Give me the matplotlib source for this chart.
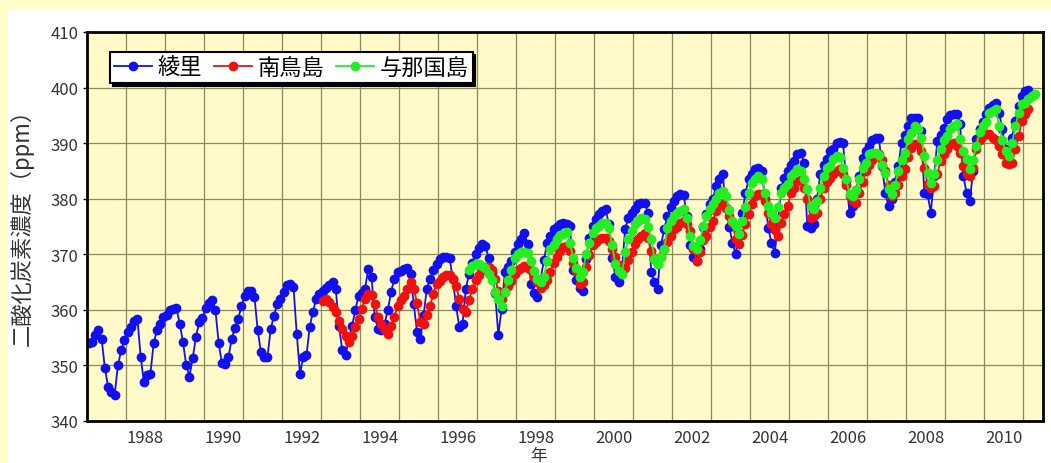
import matplotlib
matplotlib.use('Agg')
import matplotlib.pyplot as plt
import numpy as np
from matplotlib.patches import Rectangle

plt.rcParams['font.family'] = ['Noto Sans CJK JP', 'DejaVu Sans']

# ---- data (monthly means, ppm) ----
series_names = ['綾里', '南鳥島', '与那国島']
series_colors = ['#1010F0', '#F01010', '#22EE22']

ryori_start = (1987, 1)
ryori = [
    354.0, 354.3, 355.4, 356.4, 354.8, 349.5, 346.1, 345.3, 344.7, 350.0, 352.7, 354.5,
    356.0, 356.9, 358.0, 358.4, 351.6, 347.0, 348.3, 348.5, 354.0, 356.3, 357.5, 358.7,
    359.0, 359.9, 360.2, 360.3, 357.5, 354.3, 350.1, 348.0, 351.3, 355.1, 357.8, 358.5,
    360.3, 361.2, 361.8, 359.9, 354.0, 350.4, 350.3, 351.5, 354.8, 356.8, 358.4, 360.7,
    362.5, 363.4, 363.4, 362.3, 356.3, 352.4, 351.5, 351.5, 356.6, 358.9, 361.1, 362.0,
    363.2, 364.4, 364.7, 364.1, 355.7, 348.5, 351.5, 351.8, 357.0, 359.7, 362.0, 362.8,
    363.4, 364.0, 364.4, 365.1, 363.8, 357.1, 352.7, 351.8, 354.8, 357.1, 359.9, 362.5,
    363.0, 363.8, 367.4, 365.9, 358.7, 356.6, 356.3, 357.5, 359.9, 363.2, 365.6, 366.8,
    367.0, 367.4, 367.6, 366.5, 361.0, 356.0, 354.8, 359.0, 363.8, 365.6, 367.1, 368.3,
    369.2, 369.5, 369.6, 369.4, 365.5, 360.7, 356.9, 357.5, 363.8, 366.5, 368.5, 370.0,
    371.2, 371.8, 371.5, 369.4, 366.8, 363.0, 355.5, 360.2, 366.8, 367.8, 368.8, 370.4,
    371.8, 372.8, 373.9, 371.8, 364.7, 363.0, 362.3, 365.6, 369.0, 372.1, 373.3, 374.5,
    375.0, 375.4, 375.7, 375.5, 375.1, 367.1, 365.3, 364.0, 363.4, 369.2, 373.0, 375.1,
    376.3, 377.2, 377.8, 378.1, 375.4, 369.4, 366.0, 365.0, 367.4, 374.5, 376.6, 377.5,
    378.1, 379.0, 379.3, 379.3, 377.5, 366.8, 365.0, 363.8, 371.6, 374.5, 376.9, 378.5,
    379.6, 380.5, 380.8, 380.6, 376.9, 371.6, 369.5, 368.8, 371.0, 375.0, 377.2, 379.0,
    380.0, 382.3, 383.5, 384.4, 378.4, 375.0, 372.1, 370.0, 373.9, 377.5, 381.0, 383.5,
    384.5, 385.3, 385.6, 385.0, 380.0, 374.8, 372.0, 370.3, 375.7, 382.0, 383.8, 385.0,
    386.0, 386.8, 388.0, 388.3, 386.5, 375.1, 374.8, 375.5, 380.0, 384.4, 386.0, 387.1,
    388.5, 388.9, 390.1, 390.2, 390.0, 383.2, 377.5, 378.7, 381.5, 384.1, 387.4, 388.5,
    389.5, 390.5, 391.0, 391.0, 385.9, 381.0, 378.7, 379.9, 383.0, 385.9, 390.1, 391.5,
    393.1, 394.5, 394.6, 394.5, 392.2, 381.1, 380.8, 377.5, 384.0, 390.4, 391.5, 392.8,
    394.3, 395.0, 395.2, 395.2, 393.4, 384.1, 381.0, 379.6, 385.0, 390.7, 392.5, 393.8,
    395.2, 396.4, 396.8, 397.3, 395.5, 392.5, 389.0, 388.0, 391.0, 394.0, 396.7, 398.5,
    399.3, 399.5,
]

minamitori_start = (1993, 1)
minamitori = [
    361.6, 362.0, 361.4, 360.5, 359.6, 358.0, 356.6, 355.3, 354.2, 355.3, 356.9, 358.4,
    360.2, 362.0, 362.9, 362.6, 361.1, 358.7, 357.5, 356.3, 355.7, 357.1, 358.7, 360.7,
    361.8, 362.5, 363.8, 365.0, 363.8, 361.2, 357.8, 357.5, 359.0, 360.7, 362.9, 364.7,
    365.2, 365.9, 366.3, 366.3, 365.6, 364.3, 362.0, 360.2, 359.6, 361.7, 363.8, 365.3,
    366.3, 367.1, 367.7, 367.7, 367.1, 365.6, 363.4, 362.0, 363.2, 364.3, 365.2, 366.5,
    367.2, 367.5, 367.9, 367.6, 367.1, 366.0, 365.0, 364.0, 364.5, 365.3, 366.8, 368.5,
    369.5, 370.6, 371.3, 371.5, 370.6, 368.5, 367.0, 364.7, 365.0, 367.7, 369.8, 371.6,
    372.3, 372.8, 373.0, 373.0, 372.4, 370.9, 369.5, 368.0, 366.8, 367.5, 369.0, 370.4,
    371.8, 372.8, 373.3, 373.9, 373.0, 370.6, 369.2, 368.3, 369.5, 371.0, 372.2, 373.3,
    374.5, 375.0, 375.7, 376.0, 375.5, 374.2, 371.0, 368.8, 370.5, 372.5, 373.3, 375.0,
    376.0, 377.8, 378.8, 379.3, 378.4, 376.8, 375.7, 372.8, 371.8, 373.5, 375.5, 377.2,
    379.0, 380.5, 380.8, 380.8, 379.5, 377.5, 375.4, 374.3, 373.3, 375.7, 377.2, 378.7,
    381.1, 382.0, 383.2, 383.3, 382.0, 379.9, 376.6, 376.9, 377.5, 379.9, 382.0, 383.0,
    383.8, 384.5, 385.0, 385.3, 384.5, 382.5, 380.5, 379.5, 379.3, 381.0, 383.0, 385.0,
    386.0, 387.0, 387.8, 388.0, 387.0, 385.0, 382.5, 380.5, 381.0, 382.5, 384.0, 385.3,
    387.5, 389.2, 389.8, 389.8, 388.6, 385.5, 382.6, 382.0, 382.3, 384.5, 386.8, 388.0,
    389.0, 389.8, 390.0, 389.5, 388.3, 385.9, 384.4, 384.0, 385.5, 388.9, 390.5, 391.3,
    391.6, 391.6, 391.0, 390.5, 389.5, 388.0, 386.5, 386.2, 386.5, 388.9, 391.3, 394.0,
    395.2, 396.1,
]

yonaguni_start = (1996, 10)
yonaguni = [
    367.1, 367.9, 368.3,
    368.3, 367.9, 367.5, 366.5, 365.3, 363.2, 362.0, 360.7, 363.2, 365.3, 367.1, 369.4,
    370.0, 370.4, 370.4, 370.2, 368.8, 367.0, 365.5, 365.0, 366.0, 368.8, 371.0, 371.6,
    372.8, 373.5, 373.7, 374.0, 372.1, 369.4, 367.5, 366.0, 366.8, 370.0, 372.1, 373.9,
    374.8, 375.1, 375.6, 375.7, 374.8, 371.6, 368.3, 367.0, 366.5, 370.5, 372.8, 374.2,
    375.5, 376.0, 376.6, 376.3, 375.0, 372.8, 369.2, 368.3, 369.5, 371.0, 374.8, 376.0,
    376.9, 377.5, 377.8, 378.1, 376.5, 373.3, 371.5, 371.0, 372.5, 375.1, 376.8, 378.1,
    379.0, 379.9, 381.0, 381.4, 380.5, 378.0, 376.0, 375.1, 373.6, 376.0, 378.5, 381.1,
    382.9, 383.6, 384.1, 383.5, 381.0, 378.7, 377.5, 376.6, 378.5, 381.1, 382.0, 382.6,
    384.0, 384.6, 385.3, 385.0, 383.5, 381.7, 378.7, 378.1, 379.5, 382.0, 384.1, 385.5,
    385.9, 387.1, 387.7, 387.5, 385.5, 383.5, 380.8, 380.5, 381.5, 383.5, 385.5, 386.5,
    388.0, 388.2, 388.3, 387.8, 386.0, 384.7, 381.7, 380.8, 382.5, 385.0, 387.0, 388.3,
    390.7, 391.9, 393.1, 392.5, 391.0, 387.7, 384.7, 382.9, 384.5, 387.0, 388.9, 390.5,
    391.3, 392.5, 393.0, 393.4, 390.7, 388.5, 387.1, 385.3, 387.0, 389.5, 392.0, 393.0,
    393.8, 395.5, 395.8, 396.1, 393.1, 390.5, 388.5, 387.7, 390.0, 393.0, 395.5, 397.0,
    397.3, 398.0, 398.5, 398.8,
]

x_tick_years = list(range(1988, 2011, 2))
y_ticks = list(range(340, 411, 10))


def month_positions(start, n):
    y, m = start
    return y + (m - 1 + np.arange(n) + 0.5) / 12.0


W, H = 1051, 464
fig = plt.figure(figsize=(W / 100, H / 100), dpi=100, facecolor='#FFFFCC')
fig.patches.append(Rectangle((8 / W, 0), 1, (H - 11) / H, transform=fig.transFigure,
                             facecolor='white', edgecolor='none', zorder=-5))

ax = fig.add_axes([87 / W, (H - 422) / H, (1043 - 87) / W, 389 / H])
ax.set_facecolor('#FFFAC8')

for name, vals, start, color in zip(series_names,
                                    [ryori, minamitori, yonaguni],
                                    [ryori_start, minamitori_start, yonaguni_start],
                                    series_colors):
    ax.plot(month_positions(start, len(vals)), vals, '-o', color=color,
            markersize=6, markeredgecolor=color, linewidth=1.3, label=name)

ax.set_xlim(1987.0, 2011.5)
ax.set_ylim(340, 410)
ax.set_yticks(y_ticks)
ax.set_xticks([y + 0.5 for y in x_tick_years])
ax.set_xticklabels([str(y) for y in x_tick_years])
ax.set_xticks(list(range(1988, 2012)), minor=True)

ax.xaxis.grid(True, which='minor', color='#8A8A62', linewidth=0.9)
ax.yaxis.grid(True, which='major', color='#8A8A62', linewidth=0.9)
ax.set_axisbelow(True)

ax.tick_params(axis='x', which='both', length=0, pad=6, labelsize=12, labelcolor='#333333')
ax.tick_params(axis='y', length=3, width=1, pad=3, labelsize=12, labelcolor='#333333')

for s in ax.spines.values():
    s.set_color('black')
    s.set_linewidth(2)

leg = ax.legend(loc='upper left', bbox_to_anchor=(23 / 956, (422 - 53) / 389), ncol=3,
                frameon=True, fancybox=False, edgecolor='black', framealpha=1,
                fontsize=16, handlelength=1.7, handletextpad=0.25, columnspacing=0.55,
                borderpad=0.18, borderaxespad=0,
                shadow={'facecolor': 'black', 'edgecolor': 'black', 'alpha': 1})
leg.get_frame().set_linewidth(1.5)

fig.text(22 / W, 1 - 222 / H, '二酸化炭素濃度（ppm）', rotation=90, ha='center', va='center',
         fontsize=16, color='#333333')
fig.text(539 / W, 1 - 457 / H, '年', ha='center', va='center', fontsize=12, color='#333333')

fig.savefig('out.png', dpi=100, facecolor=fig.get_facecolor())
